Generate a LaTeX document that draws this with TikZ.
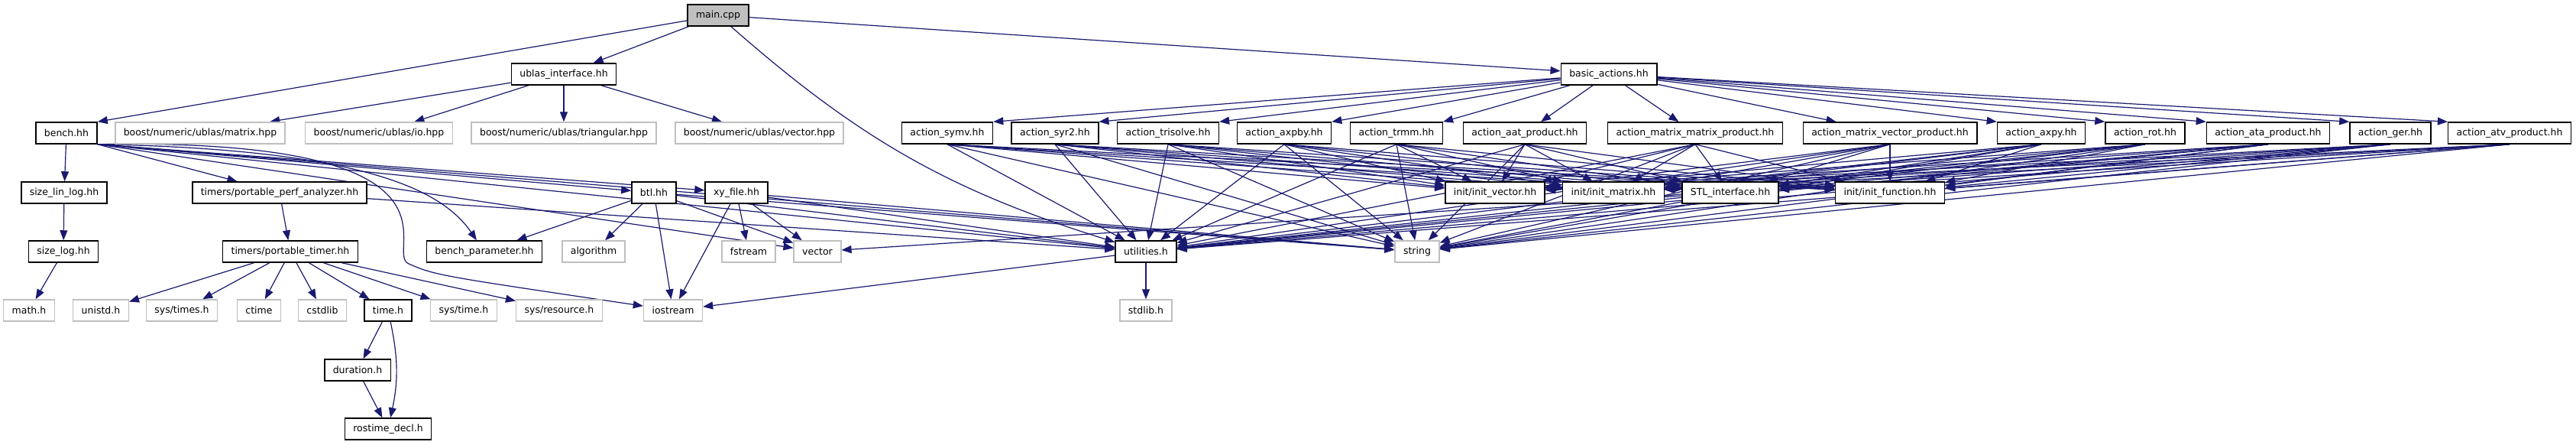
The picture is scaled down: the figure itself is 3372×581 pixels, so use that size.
\documentclass[tikz,border=0pt]{standalone}
\usepackage{fontspec}
\setsansfont{DejaVu Sans}
\usepackage{tikz}
\usetikzlibrary{arrows.meta,backgrounds}
\definecolor{edgeblue}{HTML}{191970}
\definecolor{sysgray}{HTML}{BFBFBF}
\definecolor{rootgray}{HTML}{BFBFBF}

\begin{document}
\begin{tikzpicture}[x=1pt, y=-1pt,
  every node/.style={font=\sffamily\fontsize{12.5}{15}\selectfont},
  hdr/.style={rectangle, draw=black, line width=1.5pt, fill=white, minimum height=28pt, inner xsep=11pt, inner ysep=0pt},
  syshdr/.style={hdr, draw=sysgray},
  roothdr/.style={hdr, fill=rootgray},
  inc/.style={-{Triangle[length=13pt, width=10pt]}, draw=edgeblue, line width=1.2pt}]
  \useasboundingbox (0,0) rectangle (3372,581);

  % level 0 and 1
  \node[roothdr] (main) at (940,20) {main.cpp};
  \node[hdr] (ublas) at (738,97) {ublas\_interface.hh};
  \node[hdr] (basic) at (2106,97) {basic\_actions.hh};

  % level 2
  \node[hdr] (bench) at (87,174) {bench.hh};
  \node[syshdr] (bmatrix) at (262,174) {boost/numeric/ublas/matrix.hpp};
  \node[syshdr] (bio) at (496,174) {boost/numeric/ublas/io.hpp};
  \node[syshdr] (btri) at (738,174) {boost/numeric/ublas/triangular.hpp};
  \node[syshdr] (bvec) at (994,174) {boost/numeric/ublas/vector.hpp};
  \node[hdr] (symv) at (1240,174) {action\_symv.hh};
  \node[hdr] (syr2) at (1381,174) {action\_syr2.hh};
  \node[hdr] (trisolve) at (1529,174) {action\_trisolve.hh};
  \node[hdr] (axpby) at (1681,174) {action\_axpby.hh};
  \node[hdr] (trmm) at (1828,174) {action\_trmm.hh};
  \node[hdr] (aat) at (1996,174) {action\_aat\_product.hh};
  \node[hdr] (mmp) at (2219,174) {action\_matrix\_matrix\_product.hh};
  \node[hdr] (mvp) at (2474,174) {action\_matrix\_vector\_product.hh};
  \node[hdr] (axpy) at (2672,174) {action\_axpy.hh};
  \node[hdr] (rot) at (2808,174) {action\_rot.hh};
  \node[hdr] (ata) at (2969,174) {action\_ata\_product.hh};
  \node[hdr] (ger) at (3129,174) {action\_ger.hh};
  \node[hdr] (atv) at (3285,174) {action\_atv\_product.hh};

  % level 3
  \node[hdr] (sizelin) at (84,252) {size\_lin\_log.hh};
  \node[hdr] (perfan) at (366,252) {timers/portable\_perf\_analyzer.hh};
  \node[hdr] (btl) at (856,252) {btl.hh};
  \node[hdr] (xyfile) at (964,252) {xy\_file.hh};
  \node[hdr] (initvec) at (1957,252) {init/init\_vector.hh};
  \node[hdr] (initmat) at (2112,252) {init/init\_matrix.hh};
  \node[hdr] (stl) at (2265,252) {STL\_interface.hh};
  \node[hdr] (initfun) at (2474,252) {init/init\_function.hh};

  % level 4
  \node[hdr] (sizelog) at (83,329) {size\_log.hh};
  \node[hdr] (ptimer) at (380,329) {timers/portable\_timer.hh};
  \node[hdr] (benchpar) at (634,329) {bench\_parameter.hh};
  \node[syshdr] (algo) at (777,329) {algorithm};
  \node[syshdr] (fstream) at (980,329) {fstream};
  \node[syshdr] (vector) at (1070,329) {vector};
  \node[hdr] (util) at (1500,329) {utilities.h};
  \node[syshdr] (string) at (1855,329) {string};

  % level 5 and below
  \node[syshdr] (mathh) at (38,406) {math.h};
  \node[syshdr] (unistd) at (132,406) {unistd.h};
  \node[syshdr] (systimes) at (238,406) {sys/times.h};
  \node[syshdr] (ctime) at (339,406) {ctime};
  \node[syshdr] (cstdlib) at (422,406) {cstdlib};
  \node[hdr] (timeh) at (508,406) {time.h};
  \node[syshdr] (systime) at (607,406) {sys/time.h};
  \node[syshdr] (sysres) at (732,406) {sys/resource.h};
  \node[syshdr] (iostream) at (881,406) {iostream};
  \node[syshdr] (stdlibh) at (1500,406) {stdlib.h};
  \node[hdr] (duration) at (468,484) {duration.h};
  \node[hdr] (rostime) at (508,561) {rostime\_decl.h};

  \coordinate (iobend) at (535,345);

  \begin{scope}[on background layer]
    \draw[inc] (main) -- (bench.north east);
    \foreach \t in {ublas,basic}
      \draw[inc] (main) -- (\t);
    \draw[inc] (main) to[bend right=12] (util);
    \foreach \t in {bmatrix,bio,btri,bvec}
      \draw[inc] (ublas) -- (\t);
    \draw[inc] (bench) -- (sizelin);
    \foreach \t in {perfan,btl,xyfile,vector,string,util}
      \draw[inc] (bench.south east) -- (\t);
    \draw[inc] (bench.south east) .. controls (480,195) and (580,250) .. (benchpar);
    \draw[inc] (bench.south east) .. controls (640,180) and (500,330) .. (iobend)
      .. controls (570,360) .. (iostream);
    \draw[inc] (sizelin) -- (sizelog);
    \draw[inc] (sizelog) -- (mathh);
    \draw[inc] (perfan) -- (ptimer);
    \draw[inc] (perfan) -- (util);
    \foreach \t in {unistd,systimes,ctime,cstdlib,timeh,systime,sysres}
      \draw[inc] (ptimer) -- (\t);
    \draw[inc] (timeh) -- (duration);
    \draw[inc] (timeh) to[bend left=12] (rostime);
    \draw[inc] (duration) -- (rostime);
    \foreach \t in {benchpar,algo,iostream,vector,string,util}
      \draw[inc] (btl) -- (\t);
    \foreach \t in {fstream,iostream,vector,string,util}
      \draw[inc] (xyfile) -- (\t);
    \draw[inc] (util) -- (stdlibh);
    \draw[inc] (util) -- (iostream);
    \foreach \t in {vector,string,util}
      \draw[inc] (stl) -- (\t);
    % basic_actions fans out to the action headers
    \foreach \a in {symv,syr2,trisolve,axpby,trmm}
      \draw[inc] (basic) -- (\a.north east);
    \foreach \a in {aat,mmp,mvp}
      \draw[inc] (basic) -- (\a);
    \foreach \a in {axpy,rot,ata,ger,atv}
      \draw[inc] (basic) -- (\a.north west);
    \foreach \a in {symv,syr2,trisolve,axpby,trmm,aat,mmp,mvp,axpy,rot,ata,ger,atv}
      \foreach \t in {initvec,initmat,stl,initfun,util,string}
        \draw[inc] (\a.south) -- (\t);
  \end{scope}
\end{tikzpicture}
\end{document}
